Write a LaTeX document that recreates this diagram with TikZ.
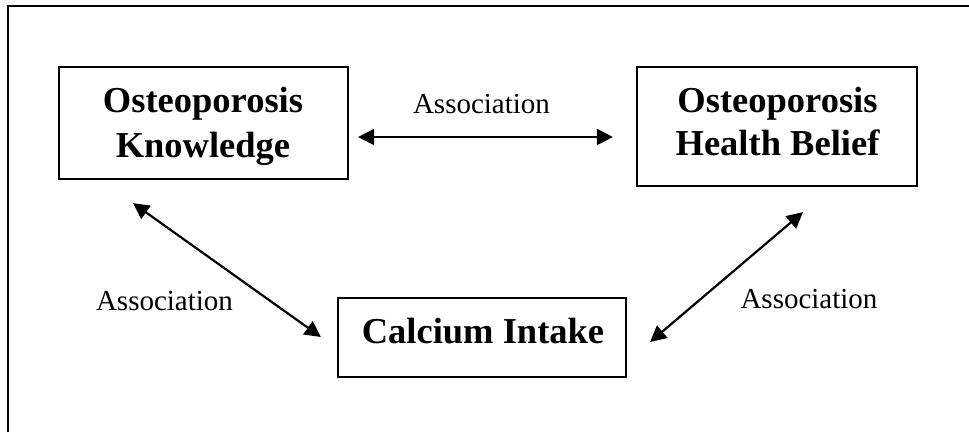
\documentclass[tikz,border=0pt]{standalone}
\usepackage{fontspec}
\setmainfont{Liberation Serif}
\usetikzlibrary{arrows.meta,calc}
\begin{document}
\begin{tikzpicture}[x=1pt,y=-1pt,
  box/.style={draw,line width=2.2pt,inner sep=0pt},
  ttl/.style={font=\fontsize{36.5}{44}\selectfont\bfseries,inner sep=0pt,anchor=base},
  lbl/.style={font=\fontsize{29}{35}\selectfont,inner sep=0pt,anchor=base},
  arr/.style={line width=2.2pt,{Triangle[length=16pt,width=16pt]}-{Triangle[length=16pt,width=16pt]}}]
\useasboundingbox (0,0) rectangle (969,432);
\draw[line width=2.2pt] (8,432) coordinate (fb) -- (8,6) coordinate (fc) -- (969,6) coordinate (fr);
% boxes
\node[box,minimum width=289pt,minimum height=112pt] (k) at (203.5,123) {};
\node[box,minimum width=280pt,minimum height=119pt] (h) at (777,126.5) {};
\node[box,minimum width=288pt,minimum height=79pt] (c) at (482,337.5) {};
% box texts
\node[ttl] (k1) at (203,112) {Osteoporosis};
\node[ttl] (k2) at (203,157) {Knowledge};
\node[ttl] (h1) at (777.5,112) {Osteoporosis};
\node[ttl] (h2) at (777.5,155) {Health Belief};
\node[ttl] (c1) at (483,343) {Calcium Intake};
% labels
\node[lbl] (la) at (481.5,113) {Association};
\node[lbl] (lb) at (164.5,310) {Association};
\node[lbl] (lc) at (809,308) {Association};
% arrows
\draw[arr] ($(k.east)+(9,14)$) -- ($(h.west)+(-23,10.5)$);
\draw[arr] ($(k.south)+(-70.5,23)$) -- ($(c.west)+(-16,-0.5)$);
\draw[arr] ($(h.south)+(26,25)$) -- ($(c.east)+(23,4.5)$);
\end{tikzpicture}
\end{document}
